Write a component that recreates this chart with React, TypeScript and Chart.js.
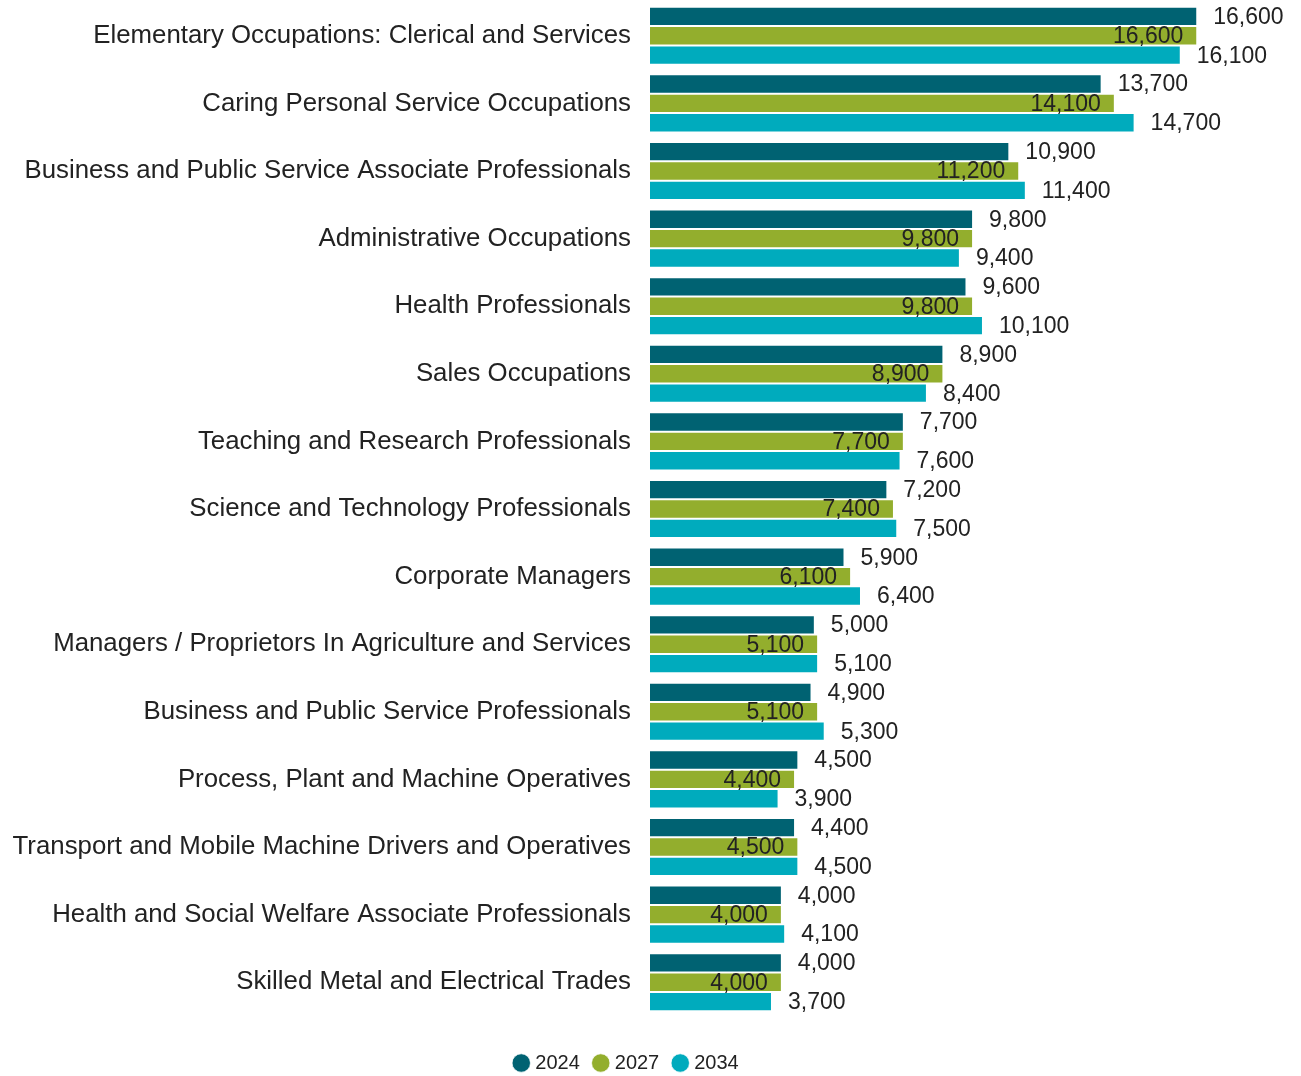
import React, { useEffect, useRef } from "react";
import { Chart, registerables } from "chart.js";

Chart.register(...registerables);

const categories = [
  "Elementary Occupations: Clerical and Services",
  "Caring Personal Service Occupations",
  "Business and Public Service Associate Professionals",
  "Administrative Occupations",
  "Health Professionals",
  "Sales Occupations",
  "Teaching and Research Professionals",
  "Science and Technology Professionals",
  "Corporate Managers",
  "Managers / Proprietors In Agriculture and Services",
  "Business and Public Service Professionals",
  "Process, Plant and Machine Operatives",
  "Transport and Mobile Machine Drivers and Operatives",
  "Health and Social Welfare Associate Professionals",
  "Skilled Metal and Electrical Trades",
];

const seriesNames = ["2024", "2027", "2034"];
const values2024 = [16600, 13700, 10900, 9800, 9600, 8900, 7700, 7200, 5900, 5000, 4900, 4500, 4400, 4000, 4000];
const values2027 = [16600, 14100, 11200, 9800, 9800, 8900, 7700, 7400, 6100, 5100, 5100, 4400, 4500, 4000, 4000];
const values2034 = [16100, 14700, 11400, 9400, 10100, 8400, 7600, 7500, 6400, 5100, 5300, 3900, 4500, 4100, 3700];
const colors = ["#006272", "#93AE2D", "#00ABBD"];

const FONT = "'Liberation Sans', Arial, sans-serif";
const TEXT = "#222222";
const fmt = (v: number) => v.toLocaleString("en-US");

const labelPlugin = {
  id: "barValueLabels",
  afterDatasetsDraw(chart: any) {
    const ctx = chart.ctx;
    ctx.save();
    ctx.font = `23px ${FONT}`;
    ctx.fillStyle = TEXT;
    ctx.textBaseline = "middle";
    chart.data.datasets.forEach((ds: any, di: number) => {
      const meta = chart.getDatasetMeta(di);
      meta.data.forEach((bar: any, i: number) => {
        const v = ds.data[i] as number;
        if (di === 1) {
          ctx.textAlign = "right";
          ctx.fillText(fmt(v), bar.x - 14, bar.y + 1);
        } else {
          ctx.textAlign = "left";
          ctx.fillText(fmt(v), bar.x + 16, bar.y + 1);
        }
      });
    });
    ctx.restore();
  },
};

export default function App() {
  const ref = useRef<HTMLCanvasElement | null>(null);
  useEffect(() => {
    document.body.style.margin = "0";
    const chart = new Chart(ref.current!, {
      type: "bar",
      data: {
        labels: categories,
        datasets: [values2024, values2027, values2034].map((d, i) => ({
          label: seriesNames[i],
          data: d,
          backgroundColor: colors[i],
          borderColor: "rgba(255,255,255,0.7)",
          borderWidth: 1,
          categoryPercentage: 0.86,
          barPercentage: 1,
        })),
      },
      options: {
        indexAxis: "y",
        animation: false,
        responsive: true,
        maintainAspectRatio: false,
        layout: { padding: { top: 2, right: 51, bottom: -7, left: 6 } },
        scales: {
          x: {
            display: true,
            position: "bottom",
            min: 0,
            max: 18200,
            grid: { display: false, drawTicks: false },
            border: { display: false },
            ticks: { display: false },
            afterFit: (s: any) => {
              s.height = 20;
              s.paddingLeft = 0;
              s.paddingRight = 0;
            },
          },
          y: {
            grid: { display: false, drawTicks: false },
            border: { display: false },
            ticks: { font: { family: FONT, size: 25.8 }, color: TEXT, padding: 19 },
            afterFit: (s: any) => {
              s.width = 644;
              s.paddingTop = 0;
              s.paddingBottom = 0;
            },
          },
        },
        plugins: {
          legend: {
            position: "bottom",
            labels: {
              usePointStyle: true,
              pointStyle: "circle",
              boxWidth: 8,
              boxHeight: 13,
              padding: 17,
              font: { family: FONT, size: 20 },
              color: TEXT,
            },
          },
          tooltip: { enabled: false },
        },
      },
      plugins: [labelPlugin],
    });
    return () => chart.destroy();
  }, []);
  return (
    <div style={{ width: 1301, height: 1076, position: "relative" }}>
      <canvas ref={ref} />
    </div>
  );
}
